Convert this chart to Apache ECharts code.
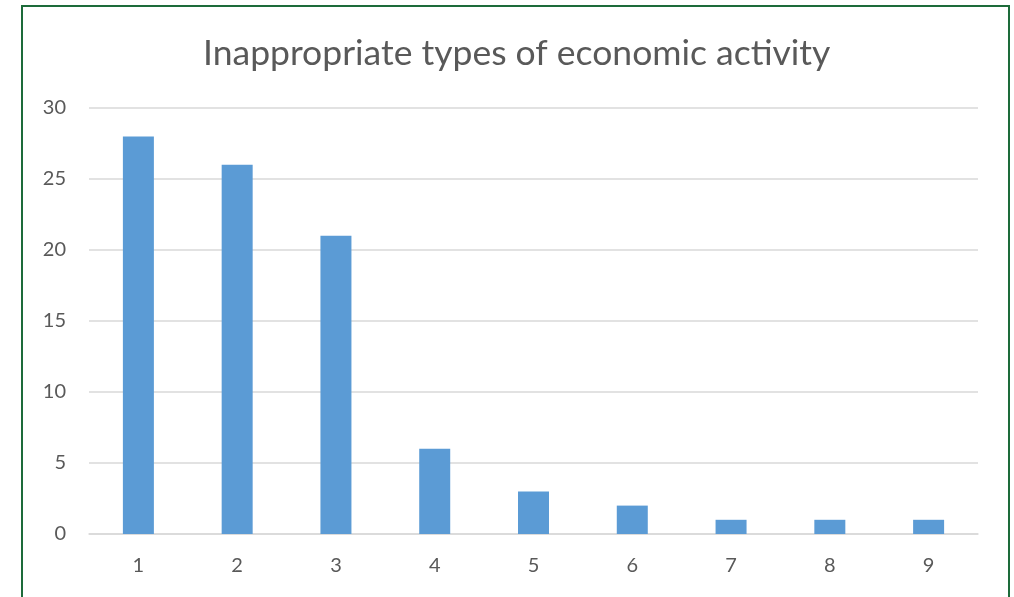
<!DOCTYPE html>
<html><head><meta charset="utf-8">
<script src="https://cdn.jsdelivr.net/npm/echarts@6/dist/echarts.min.js"></script>
<style>html,body{margin:0;padding:0;background:#fff}#c{width:1014px;height:597px}</style>
</head><body><div id="c"></div>
<script>
const titleText = 'Inappropriate types of economic activity';
const categories = ['1','2','3','4','5','6','7','8','9'];
const values = [28, 26, 21, 6, 3, 2, 1, 1, 1];

const chart = echarts.init(document.getElementById('c'), null, {renderer:'canvas'});
const FONT = 'Lato';
chart.setOption({
  animation: false,
  backgroundColor: '#ffffff',
  title: {
    text: titleText, left: 198, top: 31,
    textStyle: {fontFamily: FONT, fontSize: 35.5, fontWeight: 'normal', color: '#595959'}
  },
  graphic: [{
    type: 'rect', shape: {x: 22, y: 6, width: 987, height: 700},
    style: {fill: 'none', stroke: '#1d6b3a', lineWidth: 2}, silent: true
  }],
  grid: {left: 89, right: 36, top: 108, bottom: 63},
  xAxis: {
    type: 'category', data: categories, boundaryGap: true,
    axisLine: {show: true, lineStyle: {color: '#d9d9d9', width: 1.5}},
    axisTick: {show: false},
    axisLabel: {fontFamily: FONT, fontSize: 20, color: '#595959', margin: 22}
  },
  yAxis: {
    type: 'value', min: 0, max: 30, interval: 5,
    axisLine: {show: false}, axisTick: {show: false},
    splitLine: {lineStyle: {color: '#d9d9d9', width: 1.5}},
    axisLabel: {fontFamily: FONT, fontSize: 20, color: '#595959', margin: 23}
  },
  series: [{
    type: 'bar', data: values, barWidth: 31,
    itemStyle: {color: '#5b9bd5'}
  }]
});
</script></body></html>
